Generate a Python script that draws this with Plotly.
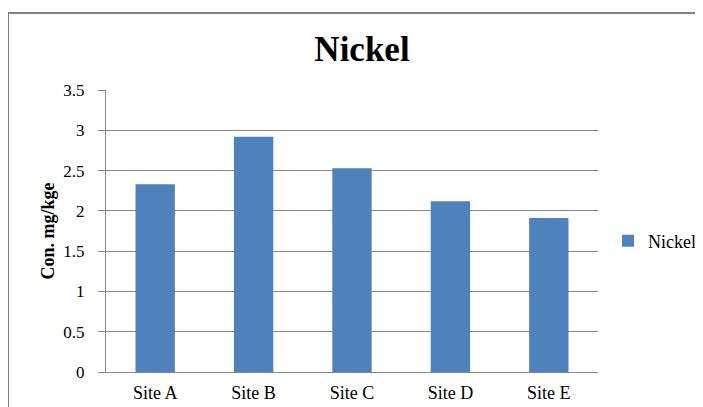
import plotly.graph_objects as go

categories = ["Site A", "Site B", "Site C", "Site D", "Site E"]
nickel = [2.33, 2.92, 2.53, 2.12, 1.91]
series_name = "Nickel"
title_text = "Nickel"
y_title = "Con. mg/kge"
y_ticks = [0, 0.5, 1, 1.5, 2, 2.5, 3, 3.5]

# page body has an 8px margin; figure is sized so it fills the window
OFF = 8
W, H = 703 - OFF, 407 - OFF
L, T = 106 - OFF, 90 - OFF
R = W - (598 - OFF)
B = H - (372 - OFF)
pw, ph = W - L - R, H - T - B

def px_x(p):  # p in reference window pixels
    return (p - OFF - L) / pw

def px_y(p):
    return (H - B - (p - OFF)) / ph

serif = "Liberation Serif, Times New Roman, serif"
grid = "#878787"

fig = go.Figure()
fig.add_trace(go.Bar(x=categories, y=nickel, name=series_name,
                     marker=dict(color="#4F81BD", line=dict(width=0)),
                     showlegend=True))

fig.update_layout(
    width=W, height=H,
    margin=dict(l=L, r=R, t=T, b=B, autoexpand=False),
    paper_bgcolor="white", plot_bgcolor="white",
    bargap=0.6,
    font=dict(family=serif, size=18, color="#000000"),
    title=dict(text="<b>" + title_text + "</b>", font=dict(family=serif, size=35, color="#000"),
               x=px_x(362), xref="paper", xanchor="center",
               y=1 - (49 - OFF) / H, yref="container", yanchor="middle"),
    showlegend=True,
    legend=dict(x=(608 - OFF) / W, y=1 - (241 - OFF) / H, xref="container", yref="container",
                xanchor="left", yanchor="middle",
                font=dict(family=serif, size=18, color="#000"),
                bgcolor="rgba(0,0,0,0)", itemwidth=30, tracegroupgap=0),
    xaxis=dict(showgrid=False, showline=True, linecolor=grid, linewidth=1,
               ticks="", tickfont=dict(family=serif, size=18, color="#000"),
               ticklabelstandoff=4, zeroline=False, automargin=False),
    yaxis=dict(range=[0, 3.5], tickvals=y_ticks, ticktext=[f"{v:g}" for v in y_ticks],
               showgrid=True, gridcolor=grid, gridwidth=1,
               showline=True, linecolor=grid, linewidth=1,
               ticks="outside", ticklen=7, tickcolor=grid, tickwidth=1,
               tickfont=dict(family=serif, size=17, color="#000"),
               ticklabelstandoff=10, zeroline=False, automargin=False,
               title=dict(text="<b>" + y_title + "</b>", font=dict(family=serif, size=18, color="#000"),
                          standoff=4)),
    shapes=[dict(type="path", xref="paper", yref="paper",
                 path=f"M {px_x(8)},{px_y(420)} L {px_x(8)},{px_y(13)} L {px_x(712)},{px_y(13)}",
                 line=dict(color="#808080", width=2))],
)

fig.write_html("out.html")
